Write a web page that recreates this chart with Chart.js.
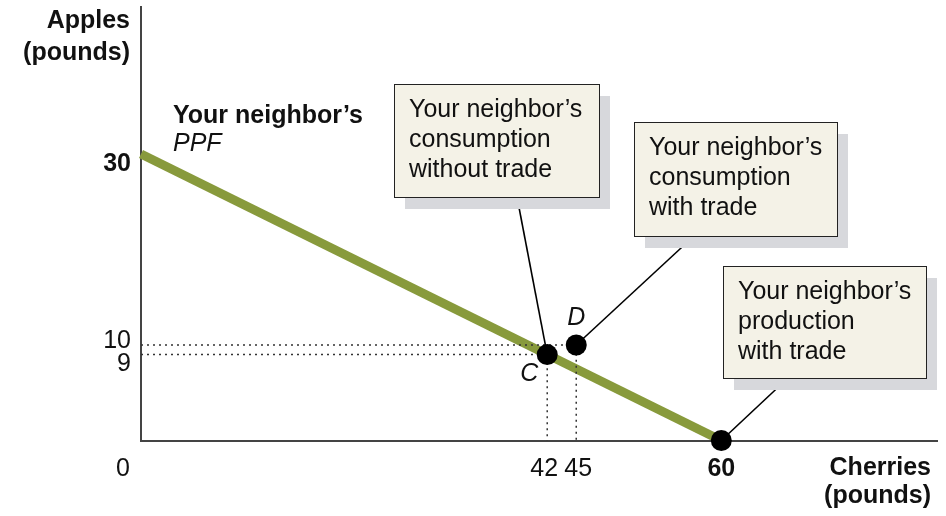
<!DOCTYPE html>
<html>
<head>
<meta charset="utf-8">
<script src="https://cdn.jsdelivr.net/npm/chart.js@4/dist/chart.umd.min.js"></script>
<style>
  body { margin: 0; background: #fff; }
  canvas { display: block; }
</style>
</head>
<body>
<canvas id="ppf-chart" width="946" height="516"></canvas>
<script>
// Chart data
const ppfCherries = [0, 60];
const ppfApples = [30, 0];

const pointNames = ['C', 'D', 'P'];
const pointCherries = [42, 45, 60];
const pointApples = [9, 10, 0];

const xTicks = [42, 45, 60];
const yTicks = [30, 10, 9];

const xMax = 82.3;
const yMax = 45.4;

const boxTexts = [
  ['Your neighbor\u2019s', 'consumption', 'without trade'],
  ['Your neighbor\u2019s', 'consumption', 'with trade'],
  ['Your neighbor\u2019s', 'production', 'with trade']
];

// Build datasets from the arrays
const points = pointCherries.map((x, i) => ({ x: x, y: pointApples[i] }));
const ppfLine = ppfCherries.map((x, i) => ({ x: x, y: ppfApples[i] }));

// dotted guides from C and D to both axes
const guideSets = [0, 1].map(i => ({
  data: [
    { x: 0, y: pointApples[i] },
    { x: pointCherries[i], y: pointApples[i] },
    { x: pointCherries[i], y: 0 }
  ],
  showLine: true,
  borderColor: '#333',
  borderWidth: 1.5,
  borderDash: [2, 4],
  pointRadius: 0,
  clip: false
}));

const GREEN = 'rgb(136, 154, 60)';
const FONT = '"Liberation Sans", Arial, sans-serif';

// Annotation boxes (pixel layout), leader start, target point index
const boxes = [
  { x: 394, y: 84, w: 205, h: 113, lead: [517, 197], target: 0 },
  { x: 634, y: 122, w: 203, h: 114, lead: [694, 236], target: 1 },
  { x: 723, y: 266, w: 203, h: 112, lead: [788, 378], target: 2 }
];

const labelPlugin = {
  id: 'labels',
  afterDraw(chart) {
    const c = chart.ctx;
    const xs = chart.scales.x;
    const ys = chart.scales.y;
    c.save();

    // leader lines
    c.strokeStyle = '#000';
    c.lineWidth = 1.6;
    boxes.forEach(b => {
      const px = xs.getPixelForValue(pointCherries[b.target]);
      const py = ys.getPixelForValue(pointApples[b.target]);
      c.beginPath();
      c.moveTo(b.lead[0], b.lead[1]);
      c.lineTo(px, py);
      c.stroke();
    });

    // boxes with shadow
    boxes.forEach((b, i) => {
      c.fillStyle = '#d7d8dc';
      c.fillRect(b.x + 11, b.y + 12, b.w, b.h);
      c.fillStyle = '#f4f2e7';
      c.fillRect(b.x, b.y, b.w, b.h);
      c.strokeStyle = '#222';
      c.lineWidth = 1;
      c.strokeRect(b.x + 0.5, b.y + 0.5, b.w, b.h);
      c.fillStyle = '#111';
      c.font = '25px ' + FONT;
      c.textAlign = 'left';
      c.textBaseline = 'alphabetic';
      boxTexts[i].forEach((t, j) => {
        c.fillText(t, b.x + 15, b.y + 33 + j * 30);
      });
    });

    // point labels C and D
    c.fillStyle = '#111';
    c.font = 'italic 25px ' + FONT;
    c.textAlign = 'center';
    c.textBaseline = 'middle';
    c.fillText(pointNames[0], xs.getPixelForValue(pointCherries[0]) - 18, ys.getPixelForValue(pointApples[0]) + 19);
    c.fillText(pointNames[1], xs.getPixelForValue(pointCherries[1]), ys.getPixelForValue(pointApples[1]) - 27);

    // PPF label
    c.textAlign = 'left';
    c.textBaseline = 'alphabetic';
    c.font = 'bold 25px ' + FONT;
    c.fillText('Your neighbor\u2019s', 173, 123);
    c.font = 'italic 25px ' + FONT;
    c.fillText('PPF', 173, 151);

    // y tick labels (10 lifted so it clears 9)
    const yShift = { 10: -13.5 };
    c.textAlign = 'right';
    yTicks.forEach(v => {
      c.font = (v === 30 ? 'bold ' : '') + '25px ' + FONT;
      c.fillText(String(v), xs.left - 10, ys.getPixelForValue(v) + 16.5 + (yShift[v] || 0));
    });

    // x tick labels
    const xShift = { 42: -3, 45: 2 };
    c.textAlign = 'center';
    xTicks.forEach(v => {
      c.font = (v === 60 ? 'bold ' : '') + '25px ' + FONT;
      c.fillText(String(v), xs.getPixelForValue(v) + (xShift[v] || 0), ys.bottom + 35.5);
    });

    // origin
    c.font = '25px ' + FONT;
    c.fillText('0', xs.left - 18, ys.bottom + 35);

    // axis titles
    c.font = 'bold 25px ' + FONT;
    c.textAlign = 'right';
    c.fillText('Apples', 130, 28);
    c.fillText('(pounds)', 130, 60);
    c.fillText('Cherries', 931, 475);
    c.fillText('(pounds)', 931, 503);

    c.restore();
  }
};

const ctx = document.getElementById('ppf-chart').getContext('2d');
new Chart(ctx, {
  type: 'scatter',
  data: {
    datasets: [
      {
        label: 'Points',
        data: points,
        pointRadius: 10.5,
        pointBackgroundColor: '#000',
        pointBorderColor: '#000',
        pointBorderWidth: 0,
        showLine: false,
        clip: false
      },
      ...guideSets,
      {
        label: 'PPF',
        data: ppfLine,
        showLine: true,
        borderColor: GREEN,
        borderWidth: 9,
        borderCapStyle: 'butt',
        pointRadius: 0,
        clip: false
      }
    ]
  },
  options: {
    responsive: false,
    animation: false,
    events: [],
    layout: {
      autoPadding: false,
      padding: { left: 141, right: 9, top: 7, bottom: 75.5 }
    },
    plugins: {
      legend: { display: false },
      tooltip: { enabled: false }
    },
    scales: {
      x: {
        type: 'linear',
        min: 0,
        max: xMax,
        grid: { display: false, drawTicks: false },
        border: { color: '#444', width: 2 },
        ticks: { display: false }
      },
      y: {
        type: 'linear',
        min: 0,
        max: yMax,
        grid: { display: false, drawTicks: false },
        border: { color: '#444', width: 2 },
        ticks: { display: false }
      }
    }
  },
  plugins: [labelPlugin]
});
</script>
</body>
</html>
